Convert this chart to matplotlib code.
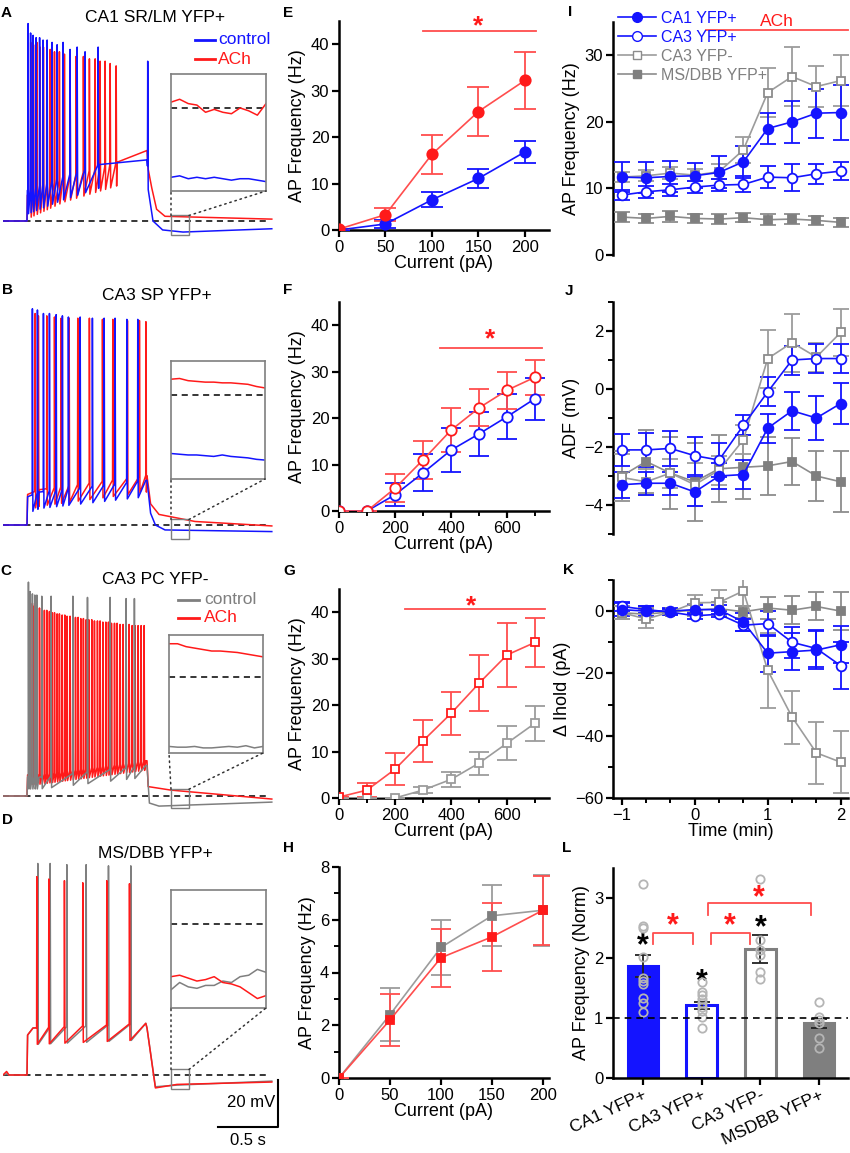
import numpy as np
import matplotlib.pyplot as plt
from matplotlib.patches import Rectangle, ConnectionPatch
from matplotlib.lines import Line2D
from matplotlib.transforms import offset_copy

plt.rcParams['font.family'] = ['Liberation Sans', 'DejaVu Sans']

W, H = 850, 1153
fig = plt.figure(figsize=(8.5, 11.53), dpi=100)

BLUE = '#1414ff'
RED = '#ff1a1a'
LRED = '#ff4d4d'
GRAY = '#7f7f7f'
LGRAY = '#9c9c9c'

# ---------------- data: traces (time s, mV relative to rest) ----------------
# A  CA1 SR/LM YFP+
A_ctrl_kt = [0, 0.2, 0.203, 0.5, 0.8, 1.2, 1.25, 1.33, 1.5, 2.24]
A_ctrl_kv = [0, 0, 13, 19, 24, 26, 0, -3.8, -4.7, -3.3]
A_ctrl_st = [0.208, 0.229, 0.250, 0.275, 0.304, 0.333, 0.367, 0.408, 0.450, 0.500,
             0.558, 0.617, 0.683, 0.792, 1.205]
A_ctrl_pk = [84, 80, 79, 78, 78, 77, 77, 76, 75, 76, 73, 74, 72, 74, 68]
A_ach_kt = [0, 0.2, 0.203, 0.5, 0.95, 1.2, 1.21, 1.24, 1.28, 1.35, 2.24]
A_ach_kv = [0, 0, 11, 18, 25, 30, 22, 14, 5, 2, 0.8]
A_ach_st = [0.230, 0.253, 0.281, 0.308, 0.336, 0.364, 0.392, 0.428, 0.469, 0.511,
            0.558, 0.608, 0.669, 0.719, 0.767, 0.808, 0.850, 0.892, 0.942]
A_ach_pk = [76, 75, 76, 74, 74, 73, 73, 72, 72, 71, 71, 70, 70, 69, 69, 68, 68, 67, 66]
A_in_ach = [0.4, 0.6, 0.3, 0.2, -0.3, -0.1, -0.3, -0.4, 0.0, -0.2, -0.5, 0.3]
A_in_ctrl = [-4.8, -4.7, -4.9, -4.8, -4.9, -4.8, -4.9, -5.0, -4.9, -4.9, -5.0, -5.1]

# B  CA3 SP YFP+
B_ctrl_kt = [0, 0.2, 0.205, 0.3, 1.19, 1.2, 1.23, 1.27, 1.35, 2.24]
B_ctrl_kv = [0, 0, 12, 14, 19, 19, 5, 0, -2.1, -2.8]
B_ctrl_st = [0.244, 0.286, 0.336, 0.386, 0.442, 0.494, 0.544, 0.642, 0.744, 0.842,
             0.933, 1.031, 1.122]
B_ctrl_pk = [92, 91.5, 90, 90, 89.5, 89, 88.5, 88.5, 88, 88, 88, 87.5, 87.5]
B_ach_kt = [0, 0.2, 0.205, 0.3, 1.19, 1.2, 1.23, 1.3, 1.6, 2.24]
B_ach_kv = [0, 0, 13, 15, 21, 21, 9, 4.5, 1.5, -0.4]
B_ach_st = [0.267, 0.294, 0.364, 0.428, 0.483, 0.550, 0.622, 0.719, 0.828, 0.914,
            1.036, 1.136, 1.190]
B_ach_pk = [90, 89, 89, 88.5, 88, 88, 88, 88, 87.5, 87.5, 87, 87, 86.5]
B_in_ach = [1.1, 1.15, 1.0, 0.95, 0.9, 0.9, 0.85, 0.85, 0.8, 0.75, 0.6, 0.5]
B_in_ctrl = [-4.0, -4.05, -4.1, -4.1, -4.15, -4.2, -4.1, -4.2, -4.25, -4.3, -4.4, -4.45]

# C  CA3 PC YFP-
C_ctrl_kt = [0, 0.2, 0.205, 0.3, 1.19, 1.2, 1.22, 1.3, 2.24]
C_ctrl_kv = [0, 0, 8, 8, 13, 13, -3, -4.3, -2.6]
C_ctrl_st = [0.211, 0.225, 0.244, 0.264, 0.281, 0.322, 0.400, 0.581, 0.703, 0.892, 1.025, 1.094]
C_ctrl_pk = [91, 87, 86, 85.5, 85.5, 85, 85, 85, 84.5, 84.5, 84, 84]
C_ach_kt = [0, 0.2, 0.205, 0.3, 1.19, 1.2, 1.21, 1.4, 2.24]
C_ach_kv = [0, 0, 9, 9, 15, 15, 4, 2.5, -1.3]
C_ach_st = [0.225, 0.244, 0.261, 0.281, 0.303, 0.322, 0.344, 0.364, 0.386, 0.408,
            0.428, 0.450, 0.469, 0.492, 0.514, 0.533, 0.558, 0.581, 0.603, 0.625,
            0.647, 0.669, 0.692, 0.714, 0.739, 0.761, 0.786, 0.808, 0.831, 0.856,
            0.878, 0.903, 0.928, 0.950, 0.975, 1.000, 1.025, 1.050, 1.075, 1.100,
            1.125, 1.150, 1.175]
C_ach_pk = [84, 82, 81, 80.5, 80, 79.5, 79, 79, 78.5, 78,
            78, 77.5, 77.5, 77, 77, 76.5, 76.5, 76, 76, 76,
            75.5, 75.5, 75, 75, 75, 74.5, 74.5, 74.5, 74, 74,
            74, 73.5, 73.5, 73.5, 73, 73, 73, 73, 72.5, 72.5,
            72.5, 72.5, 72.5]
C_in_ach = [2.3, 2.3, 2.1, 2.0, 1.9, 1.8, 1.8, 1.75, 1.7, 1.6, 1.5, 1.4]
C_in_ctrl = [-4.75, -4.8, -4.8, -4.75, -4.85, -4.85, -4.8, -4.75, -4.8, -4.7, -4.85, -4.75]

# D  MS/DBB YFP+
D_ctrl_kt = [0, 0.03, 0.05, 0.2, 0.205, 0.25, 1.19, 1.2, 1.27, 1.45, 2.24]
D_ctrl_kv = [0, 0.5, 0, 0, 17, 20, 22, 20, -5, -4.3, -2.6]
D_ctrl_st = [0.289, 0.392, 0.531, 0.692, 0.878, 1.064]
D_ctrl_pk = [90, 90, 89.5, 89.5, 89, 89]
D_ach_kt = [0, 0.03, 0.05, 0.2, 0.205, 0.25, 1.19, 1.2, 1.27, 1.45, 2.24]
D_ach_kv = [0, 1.5, 0, 0, 17, 20, 22, 20, -5.5, -4.0, -3.0]
D_ach_st = [0.281, 0.381, 0.511, 0.664, 0.864, 1.053]
D_ach_pk = [84.4, 83.4, 82.7, 81.8, 82.7, 81.4]
D_in_ach = [-3.6, -3.5, -3.7, -3.9, -3.8, -3.6, -4.0, -4.1, -4.3, -4.7, -5.1, -4.9]
D_in_ctrl = [-4.5, -4.0, -4.3, -4.4, -4.2, -4.2, -3.9, -4.0, -3.6, -3.5, -3.1, -3.3]

# ---------------- data: F-I curves ----------------
cur_E = [0, 50, 100, 150, 200]
E_ctrl = [0, 1.3, 6.5, 11.1, 16.8]
E_ctrl_err = [0, 0.8, 1.6, 2.0, 2.3]
E_ach = [0.2, 3.3, 16.3, 25.5, 32.2]
E_ach_err = [0, 1.4, 4.2, 5.2, 6.2]

cur_FG = [0, 100, 200, 300, 400, 500, 600, 700]
F_ctrl = [0, 0, 3.5, 8.2, 13.1, 16.6, 20.3, 24.2]
F_ctrl_err = [0, 0, 2.5, 4.0, 4.8, 4.7, 4.8, 4.5]
F_ach = [0, 0, 4.9, 11.0, 17.4, 22.2, 26.0, 28.8]
F_ach_err = [0, 0, 3.0, 4.1, 4.7, 4.0, 4.0, 3.8]

G_ach = [0.2, 1.7, 6.2, 12.3, 18.2, 24.7, 30.8, 33.5]
G_ach_err = [0, 1.5, 3.5, 4.6, 4.7, 6.0, 6.8, 5.3]
G_ctrl = [0, 0, 0, 1.7, 4.0, 7.5, 11.8, 16.1]
G_ctrl_err = [0, 0, 0, 0.7, 1.7, 2.5, 3.7, 3.8]

cur_H = [0, 50, 100, 150, 200]
H_ctrl = [0, 2.4, 4.95, 6.15, 6.36]
H_ctrl_err = [0, 1.0, 1.05, 1.15, 1.35]
H_ach = [0, 2.2, 4.56, 5.35, 6.36]
H_ach_err = [0, 1.0, 1.1, 1.3, 1.3]

# ---------------- data: time courses ----------------
t_min = [-1, -2/3, -1/3, 0, 1/3, 2/3, 1, 4/3, 5/3, 2]
groups = ['CA1 YFP+', 'CA3 YFP+', 'CA3 YFP-', 'MS/DBB YFP+']

I_ca1 = [11.7, 11.6, 11.8, 11.9, 12.4, 14.0, 19.0, 20.0, 21.3, 21.4]
I_ca1_err = [2.3, 2.3, 2.3, 1.9, 2.4, 2.4, 2.4, 3.2, 3.7, 4.2]
I_ca3p = [9.0, 9.5, 9.8, 10.2, 10.5, 10.6, 11.7, 11.6, 12.2, 12.6]
I_ca3p_err = [0.8, 0.9, 0.9, 0.9, 0.9, 1.2, 1.7, 2.0, 1.5, 1.3]
I_ca3n = [11.7, 11.9, 12.3, 12.0, 12.5, 15.8, 24.4, 26.8, 25.3, 26.2]
I_ca3n_err = [0.8, 0.8, 0.9, 0.9, 1.1, 2.0, 3.7, 4.4, 3.1, 3.8]
I_ms = [5.7, 5.5, 5.8, 5.5, 5.4, 5.6, 5.3, 5.4, 5.2, 4.9]
I_ms_err = [0.7, 0.7, 0.8, 0.7, 0.7, 0.7, 0.8, 0.8, 0.7, 0.7]

J_ca1 = [-3.3, -3.25, -3.25, -3.55, -3.0, -2.95, -1.35, -0.75, -1.0, -0.5]
J_ca1_err = [0.45, 0.4, 0.4, 0.5, 0.45, 0.5, 0.5, 0.65, 0.75, 0.7]
J_ca3p = [-2.1, -2.1, -2.05, -2.3, -2.45, -1.25, -0.1, 1.0, 1.05, 1.05]
J_ca3p_err = [0.55, 0.6, 0.6, 0.65, 0.6, 0.35, 0.5, 0.5, 0.5, 0.5]
J_ca3n = [-3.05, -3.2, -2.9, -3.3, -2.8, -1.75, 1.05, 1.6, 1.1, 1.95]
J_ca3n_err = [0.8, 0.45, 0.5, 0.75, 0.5, 0.5, 1.0, 1.0, 0.5, 0.8]
J_ms = [-3.0, -2.5, -2.9, -3.2, -2.75, -2.7, -2.65, -2.5, -3.0, -3.2]
J_ms_err = [0.85, 1.1, 1.25, 1.35, 1.15, 1.1, 1.0, 0.8, 0.87, 1.05]

K_ca1 = [0.5, 0, 0, 0.5, 0.5, -3.5, -13.5, -13, -12.5, -10.8]
K_ca1_err = [2, 1.5, 1, 1.5, 1.5, 3, 6, 6, 6, 6]
K_ca3p = [1.5, 0.5, -0.3, -1.5, -1, -4.5, -4, -10, -12, -17.5]
K_ca3p_err = [1.5, 1, 1, 1, 1, 2, 4, 5, 6, 7.5]
K_ca3n = [-0.5, -2.5, -0.3, 2.7, 2.8, 6.5, -19, -34, -45.5, -48.5]
K_ca3n_err = [2, 3, 1, 2.5, 4, 7, 12, 8.5, 10, 10]
K_ms = [-0.5, -1, -0.2, 0.3, 0.8, -0.2, 1.0, 0.3, 1.5, 0]
K_ms_err = [2, 2, 1, 2, 2, 2, 3.5, 4.5, 4.5, 6]

# ---------------- data: normalised bars ----------------
L_names = ['CA1 YFP+', 'CA3 YFP+', 'CA3 YFP-', 'MSDBB YFP+']
L_mean = [1.87, 1.21, 2.15, 0.91]
L_err = [0.18, 0.06, 0.23, 0.08]
L_pts = [[3.23, 2.53, 2.50, 2.01, 1.66, 1.61, 1.57, 1.34, 1.25, 1.10],
         [1.60, 1.44, 1.38, 1.31, 1.25, 1.19, 1.11, 1.02, 0.83],
         [3.32, 2.30, 2.13, 2.05, 1.77, 1.65],
         [1.26, 1.02, 0.97, 0.91, 0.66, 0.50]]
L_black_star = [2.36, 1.77, 2.67]
L_brackets = [(0.17, 0.86, 2.24, 2.41), (1.15, 1.82, 2.24, 2.41), (1.10, 2.86, 2.71, 2.92)]
L_red_star = [2.70, 2.70, 3.17]


# ---------------- helpers ----------------
def px_axes(x0, y0, x1, y1):
    return fig.add_axes([x0 / W, 1 - y1 / H, (x1 - x0) / W, (y1 - y0) / H])


def ftext(x, y, s, **kw):
    fig.text(x / W, 1 - y / H, s, **kw)


def fline(x0, x1, y, **kw):
    fig.add_artist(Line2D([x0 / W, x1 / W], [1 - y / H, 1 - y / H],
                          transform=fig.transFigure, **kw))


def star(ax, x, y, color, size=18):
    # '*' glyph sits high in the em box, put its centre on y
    tr = offset_copy(ax.transData, fig=fig, y=-0.6 * size, units='points')
    ax.text(x, y, '*', transform=tr, ha='center', va='baseline', fontsize=size,
            fontweight='bold', color=color, clip_on=False)


def style(ax, size=12):
    for s in ['top', 'right']:
        ax.spines[s].set_visible(False)
    for s in ['left', 'bottom']:
        ax.spines[s].set_linewidth(1.8)
    ax.tick_params(width=1.6, length=5, labelsize=size, pad=2)
    ax.tick_params(which='minor', width=1.4, length=3.5)


def series(ax, x, y, e, color, marker, filled, ms, cap, lc=None, ec=None):
    lc = lc or color
    ax.errorbar(x, y, yerr=e, color=lc, ecolor=ec or lc, elinewidth=1.3, capsize=cap,
                capthick=1.3, marker=marker, ms=ms, mfc=color if filled else 'white',
                mec=color, mew=1.3, lw=1.2, zorder=3)


def build_trace(kt, kv, st, sp, ahp):
    pts = list(zip(kt, kv))
    for ts, pk in zip(st, sp):
        base = np.interp(ts, kt, kv)
        pts += [(ts - 0.001, base), (ts + 0.001, pk), (ts + 0.005, base - ahp)]
    pts.sort()
    t, v = zip(*pts)
    return t, v


def trace_panel(box, base_px, first, second, inset_box, inset_lo, inset_hi,
                in_first, in_second):
    x0, y0, x1, y1 = box
    ax = px_axes(x0, y0, x1, y1)
    ax.set_xlim(0, (x1 - x0) / 120)
    ax.set_ylim((base_px - y1) / 2.35, (base_px - y0) / 2.35)
    ax.axis('off')
    ax.plot([0, 2.22], [0, 0], color='k', lw=1.1, ls=(0, (4, 3)), zorder=1)
    for (kt, kv, st, sp, ahp, c) in (first, second):
        t, v = build_trace(kt, kv, st, sp, ahp)
        ax.plot(t, v, color=c, lw=1.1, zorder=2)
    ax.add_patch(Rectangle((1.4, inset_lo), 0.15, inset_hi - inset_lo, fill=False,
                           ec=GRAY, lw=1.0, zorder=4))
    axi = px_axes(*inset_box)
    axi.set_xticks([]); axi.set_yticks([])
    for s in axi.spines.values():
        s.set_color(GRAY); s.set_linewidth(1.2)
    axi.set_xlim(0, 11); axi.set_ylim(inset_lo, inset_hi)
    axi.axhline(0, color='k', lw=1.1, ls=(0, (4, 3)))
    axi.plot(range(len(in_first)), in_first, color=first[5], lw=1.1)
    axi.plot(range(len(in_second)), in_second, color=second[5], lw=1.1)
    for xa, xb in ((1.4, (0, 0)), (1.55, (1, 0))):
        con = ConnectionPatch(xyA=(xa, inset_hi), coordsA=ax.transData,
                              xyB=xb, coordsB=axi.transAxes, ls=(0, (1, 2.5)),
                              color='#333333', lw=1.1)
        fig.add_artist(con)
    return ax


# ---------------- A-D traces ----------------
trace_panel((3, 5, 280, 250), 221,
            (A_ach_kt, A_ach_kv, A_ach_st, A_ach_pk, 10, RED),
            (A_ctrl_kt, A_ctrl_kv, A_ctrl_st, A_ctrl_pk, 10, BLUE),
            (171, 74, 266, 191), -5.75, 2.35, A_in_ach, A_in_ctrl)
trace_panel((3, 285, 280, 560), 525,
            (B_ach_kt, B_ach_kv, B_ach_st, B_ach_pk, 7, RED),
            (B_ctrl_kt, B_ctrl_kv, B_ctrl_st, B_ctrl_pk, 7, BLUE),
            (171, 361, 265, 479), -5.75, 2.35, B_in_ach, B_in_ctrl)
trace_panel((3, 570, 280, 845), 796,
            (C_ach_kt, C_ach_kv, C_ach_st, C_ach_pk, 4, RED),
            (C_ctrl_kt, C_ctrl_kv, C_ctrl_st, C_ctrl_pk, 5, GRAY),
            (169, 635, 263, 753), -5.2, 2.9, C_in_ach, C_in_ctrl)
axD = trace_panel((3, 850, 280, 1150), 1075,
                  (D_ctrl_kt, D_ctrl_kv, D_ctrl_st, D_ctrl_pk, 7, GRAY),
                  (D_ach_kt, D_ach_kv, D_ach_st, D_ach_pk, 7, RED),
                  (171, 890, 266, 1008), -5.75, 2.35, D_in_ctrl, D_in_ach)
# scale bar 20 mV / 0.5 s
axD.plot([2.29, 2.29, 1.79], [-2.1, -22.1, -22.1], color='k', lw=1.5, clip_on=False)
axD.text(2.27, -11.5, '20 mV', ha='right', va='center', fontsize=12)
axD.text(2.04, -24.5, '0.5 s', ha='center', va='top', fontsize=12)

ftext(155, 17, 'CA1 SR/LM YFP+', ha='center', va='center', fontsize=12.5)
ftext(157, 295, 'CA3 SP YFP+', ha='center', va='center', fontsize=12.5)
ftext(155, 580, 'CA3 PC YFP-', ha='center', va='center', fontsize=12.5)
ftext(155, 853, 'MS/DBB YFP+', ha='center', va='center', fontsize=12.5)

fline(195, 215, 40, color=BLUE, lw=2)
ftext(218, 40, 'control', color=BLUE, va='center', fontsize=12.5)
fline(195, 215, 59, color=RED, lw=2)
ftext(218, 59, 'ACh', color=RED, va='center', fontsize=12.5)
fline(178, 199, 600, color=GRAY, lw=2)
ftext(204, 600, 'control', color=GRAY, va='center', fontsize=12.5)
fline(178, 199, 618, color=RED, lw=2)
ftext(204, 618, 'ACh', color=RED, va='center', fontsize=12.5)

# ---------------- E ----------------
axE = px_axes(339, 21, 549, 230)
style(axE)
series(axE, cur_E, E_ctrl, E_ctrl_err, BLUE, 'o', True, 7.5, 8)
series(axE, cur_E, E_ach, E_ach_err, RED, 'o', True, 7.5, 8, lc=LRED)
axE.set_xlim(0, 226); axE.set_ylim(0, 45)
axE.set_xticks(cur_E); axE.set_yticks([0, 10, 20, 30, 40])
axE.plot([90, 212], [42.8, 42.8], color=LRED, lw=1.3, clip_on=False)
star(axE, 150, 45.8, RED, size=19)

# ---------------- F ----------------
axF = px_axes(339, 302, 549, 511)
style(axF)
series(axF, cur_FG, F_ctrl, F_ctrl_err, BLUE, 'o', False, 7.5, 7)
series(axF, cur_FG, F_ach, F_ach_err, RED, 'o', False, 7.5, 7, lc=LRED)
axF.set_xlim(0, 750); axF.set_ylim(0, 45)
axF.set_xticks([0, 200, 400, 600]); axF.set_xticks([100, 300, 500, 700], minor=True)
axF.set_yticks([0, 10, 20, 30, 40])
axF.plot([360, 725], [35, 35], color=LRED, lw=1.3)
star(axF, 540, 38.8, RED, size=19)

# ---------------- G ----------------
axG = px_axes(339, 589, 549, 798)
style(axG)
series(axG, cur_FG, G_ctrl, G_ctrl_err, LGRAY, 's', False, 6, 7)
series(axG, cur_FG, G_ach, G_ach_err, RED, 's', False, 6, 7, lc=LRED)
axG.set_xlim(0, 750); axG.set_ylim(0, 45)
axG.set_xticks([0, 200, 400, 600]); axG.set_xticks([100, 300, 500, 700], minor=True)
axG.set_yticks([0, 10, 20, 30, 40])
axG.plot([235, 735], [40.8, 40.8], color=LRED, lw=1.3)
star(axG, 470, 43.1, RED, size=19)

# ---------------- H ----------------
axH = px_axes(339, 867, 549, 1078)
style(axH)
series(axH, cur_H, H_ctrl, H_ctrl_err, GRAY, 's', True, 6, 7, lc=LGRAY)
series(axH, cur_H, H_ach, H_ach_err, RED, 's', True, 6, 7, lc=LRED)
axH.set_xlim(0, 206); axH.set_ylim(0, 8)
axH.set_xticks(cur_H); axH.set_yticks([0, 2, 4, 6, 8]); axH.set_yticks([1, 3, 5, 7], minor=True)

for ax in (axE, axF, axG, axH):
    ax.set_ylabel('AP Frequency (Hz)', fontsize=13, labelpad=3)
    ax.set_xlabel('Current (pA)', fontsize=13, labelpad=0)


# ---------------- I, J, K ----------------
def time_panel(ax, d):
    (a, ae), (b, be), (c, ce), (m, me) = d
    series(ax, t_min, m, me, GRAY, 's', True, 6, 6, lc='#8c8c8c')
    series(ax, t_min, c, ce, '#8c8c8c', 's', False, 6, 6, lc=LGRAY)
    series(ax, t_min, b, be, BLUE, 'o', False, 7, 6)
    series(ax, t_min, a, ae, BLUE, 'o', True, 7, 6)
    ax.set_xlim(-1.12, 2.1)


axI = px_axes(613, 22, 848, 255)
style(axI)
time_panel(axI, [(I_ca1, I_ca1_err), (I_ca3p, I_ca3p_err), (I_ca3n, I_ca3n_err), (I_ms, I_ms_err)])
axI.set_ylim(0, 35)
axI.set_yticks([0, 10, 20, 30])
axI.spines['bottom'].set_visible(False)
axI.set_xticks([])
axI.set_ylabel('AP Frequency (Hz)', fontsize=13, labelpad=3)
axI.plot([0.16, 2.1], [33.85, 33.85], color=LRED, lw=1.3, clip_on=False)
axI.text(1.12, 35.1, 'ACh', color=RED, ha='center', va='center', fontsize=12.5)
handles = [Line2D([], [], color=BLUE, marker='o', mfc=BLUE, mec=BLUE, ms=7, lw=1.2),
           Line2D([], [], color=BLUE, marker='o', mfc='white', mec=BLUE, ms=7, lw=1.2),
           Line2D([], [], color=LGRAY, marker='s', mfc='white', mec='#8c8c8c', ms=6, lw=1.2),
           Line2D([], [], color='#8c8c8c', marker='s', mfc=GRAY, mec=GRAY, ms=6, lw=1.2)]
leg = axI.legend(handles, groups, loc='upper left', bbox_to_anchor=(618 / W, 1 - 11 / H),
                 bbox_transform=fig.transFigure, frameon=False, fontsize=11.5,
                 handlelength=2.4, handletextpad=0.3, labelspacing=0.25,
                 borderpad=0, borderaxespad=0)
for txt, c in zip(leg.get_texts(), [BLUE, BLUE, GRAY, GRAY]):
    txt.set_color(c)

axJ = px_axes(613, 302, 848, 534)
style(axJ)
time_panel(axJ, [(J_ca1, J_ca1_err), (J_ca3p, J_ca3p_err), (J_ca3n, J_ca3n_err), (J_ms, J_ms_err)])
axJ.set_ylim(-5, 3)
axJ.set_yticks([-4, -2, 0, 2]); axJ.set_yticks([-5, -3, -1, 1, 3], minor=True)
axJ.spines['bottom'].set_visible(False)
axJ.set_xticks([])
axJ.set_ylabel('ADF (mV)', fontsize=13, labelpad=3)

axK = px_axes(613, 580, 848, 798)
style(axK)
time_panel(axK, [(K_ca1, K_ca1_err), (K_ca3p, K_ca3p_err), (K_ca3n, K_ca3n_err), (K_ms, K_ms_err)])
axK.set_ylim(-60, 10)
axK.set_yticks([-60, -40, -20, 0]); axK.set_yticks([-50, -30, -10, 10], minor=True)
axK.set_xticks([-1, 0, 1, 2]); axK.set_xticks([-2/3, -1/3, 1/3, 2/3, 4/3, 5/3], minor=True)
axK.set_ylabel('\u0394 Ihold (pA)', fontsize=13, labelpad=3)
axK.set_xlabel('Time (min)', fontsize=13, labelpad=0)

# ---------------- L ----------------
axL = px_axes(613, 868, 848, 1078)
style(axL)
pos = np.arange(len(L_names))
fc = [BLUE, 'white', 'white', GRAY]
ecs = [BLUE, BLUE, GRAY, GRAY]
axL.bar(pos, L_mean, width=0.52, color=fc, edgecolor=ecs, linewidth=2.2, zorder=2)
axL.errorbar(pos, L_mean, yerr=L_err, fmt='none', ecolor='#222222', elinewidth=1.3,
             capsize=6, capthick=1.3, zorder=3)
for p, vals in zip(pos, L_pts):
    axL.plot([p] * len(vals), vals, 'o', ms=6, mfc='none', mec='#b5b5b5', mew=1.3, zorder=4)
axL.axhline(1, color='k', lw=1.2, ls=(0, (4, 3)), zorder=5)
for p, y in zip(pos, L_black_star):
    star(axL, p, y, 'k', size=22)
for (xa, xb, yb, yt), ys in zip(L_brackets, L_red_star):
    axL.plot([xa, xa, xb, xb], [yb, yt, yt, yb], color=LRED, lw=1.3)
    star(axL, (xa + xb) / 2, ys, RED, size=22)
axL.set_xlim(-0.51, 3.49); axL.set_ylim(0, 3.5)
axL.set_yticks([0, 1, 2, 3])
axL.set_xticks(pos)
axL.set_xticklabels(L_names, rotation=25, ha='right', rotation_mode='anchor', fontsize=12.5)
axL.set_ylabel('AP Frequency (Norm)', fontsize=13, labelpad=3)

# ---------------- panel letters ----------------
for s, x, y in [('A', 6, 13), ('B', 7, 290), ('C', 6, 571), ('D', 7, 820),
                ('E', 288, 13), ('F', 288, 290), ('G', 289, 571), ('H', 288, 848),
                ('I', 570, 12), ('J', 569, 291), ('K', 568, 570), ('L', 567, 848)]:
    ftext(x, y, s, ha='center', va='center', fontsize=11, fontweight='bold')

fig.savefig('out.png', dpi=100)
